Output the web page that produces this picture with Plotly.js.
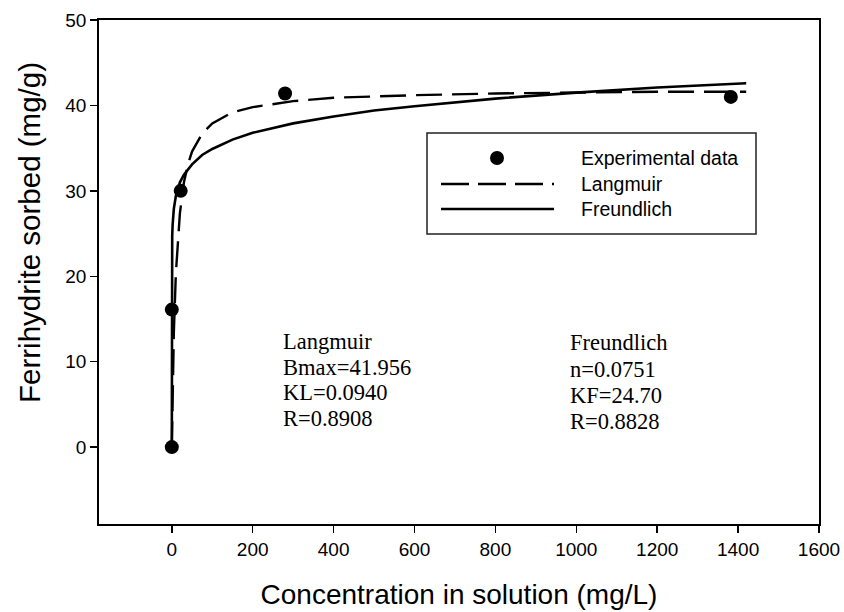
<!DOCTYPE html>
<html>
<head>
<meta charset="utf-8">
<script src="https://cdn.plot.ly/plotly-3.0.1.min.js"></script>
<style>html,body{margin:0;padding:0;background:#fff;}#chart{width:844px;height:612px;}</style>
</head>
<body>
<div id="chart"></div>
<script>
// Experimental data
const expConc = [0, 0, 22, 280, 1382];
const expSorbed = [0, 16.1, 30.0, 41.4, 41.0];

// Langmuir fitted curve
const langConc = [0, 1, 2, 5, 10, 15, 20, 30, 40, 50, 75, 100, 150, 200, 300, 400, 600, 800, 1000, 1200, 1420];
const langSorbed = [0, 3.6, 6.6, 13.4, 20.3, 24.5, 27.4, 31.0, 33.1, 34.6, 36.7, 37.9, 39.2, 39.8, 40.5, 40.9, 41.2, 41.4, 41.5, 41.6, 41.6];

// Freundlich fitted curve
const freuConc = [0, 0.001, 0.01, 0.1, 0.5, 1, 2, 5, 10, 20, 30, 50, 75, 100, 150, 200, 300, 400, 500, 600, 800, 1000, 1200, 1420];
const freuSorbed = [0, 14.7, 17.5, 20.8, 23.4, 24.7, 26.0, 27.9, 29.4, 31.0, 31.9, 33.1, 34.2, 34.9, 36.0, 36.8, 37.9, 38.7, 39.4, 39.9, 40.8, 41.5, 42.1, 42.6];

const xTicks = [0, 200, 400, 600, 800, 1000, 1200, 1400, 1600];
const yTicks = [0, 10, 20, 30, 40, 50];

const legendNames = ["Experimental data", "Langmuir", "Freundlich"];
const langmuirText = ["Langmuir", "Bmax=41.956", "KL=0.0940", "R=0.8908"];
const freundlichText = ["Freundlich", "n=0.0751", "KF=24.70", "R=0.8828"];

const traces = [
  {x: freuConc, y: freuSorbed, mode: 'lines', name: legendNames[2], line: {color: '#000', width: 2.6}, showlegend: false},
  {x: langConc, y: langSorbed, mode: 'lines', name: legendNames[1], line: {color: '#000', width: 2.4, dash: '26px,10px'}, showlegend: false},
  {x: expConc, y: expSorbed, mode: 'markers', name: legendNames[0], marker: {color: '#000', size: 14}, showlegend: false}
];

// layout helpers (pixel -> paper)
const L = 99, R = 819, T = 20, B = 524;
const px = v => (v - L) / (R - L);
const py = v => (B - v) / (B - T);

const serif = {family: 'Liberation Serif, Times New Roman, serif', size: 22.5, color: '#000'};
const sans = {family: 'Liberation Sans, Arial, sans-serif', size: 19, color: '#000'};
const legFont = {family: 'Liberation Sans, Arial, sans-serif', size: 19.5, color: '#000'};

const annotations = [];
const langY = [341, 367, 392, 418];
const freuY = [342, 369, 395, 421];
langmuirText.forEach((t, i) => annotations.push({xref: 'paper', yref: 'paper', x: px(281), y: py(langY[i]), xanchor: 'left', yanchor: 'middle', text: t, showarrow: false, font: serif}));
freundlichText.forEach((t, i) => annotations.push({xref: 'paper', yref: 'paper', x: px(568), y: py(freuY[i]), xanchor: 'left', yanchor: 'middle', text: t, showarrow: false, font: serif}));
const legY = [158, 184, 209];
legendNames.forEach((t, i) => annotations.push({xref: 'paper', yref: 'paper', x: px(579), y: py(legY[i]), xanchor: 'left', yanchor: 'middle', text: t, showarrow: false, font: legFont}));
annotations.push({xref: 'paper', yref: 'paper', x: px(29), y: py(233), xanchor: 'center', yanchor: 'middle', textangle: -90,
  text: 'Ferrihydrite sorbed (mg/g)', showarrow: false, font: {family: 'Liberation Sans, Arial, sans-serif', size: 29.5, color: '#000'}});

const shapes = [
  {type: 'rect', xref: 'paper', yref: 'paper', x0: px(427), x1: px(756), y0: py(234), y1: py(133), line: {color: '#222', width: 1.5}, fillcolor: '#fff', layer: 'below'},
  {type: 'circle', xref: 'paper', yref: 'paper', xsizemode: 'pixel', ysizemode: 'pixel', xanchor: px(497), yanchor: py(158), x0: -7, x1: 7, y0: -7, y1: 7, fillcolor: '#000', line: {width: 0}},
  {type: 'line', xref: 'paper', yref: 'paper', x0: px(441), x1: px(554), y0: py(184), y1: py(184), line: {color: '#000', width: 2.4, dash: '28px,9px'}},
  {type: 'line', xref: 'paper', yref: 'paper', x0: px(441), x1: px(554), y0: py(209), y1: py(209), line: {color: '#000', width: 2.6}}
];

const layout = {
  width: 844, height: 612,
  margin: {l: L, r: 844 - R, t: T, b: 612 - B},
  paper_bgcolor: '#fff', plot_bgcolor: '#fff',
  showlegend: false,
  font: sans,
  xaxis: {
    range: [-180, 1600], tickvals: xTicks, ticktext: xTicks.map(String),
    showgrid: false, zeroline: false, showline: true, mirror: true, linecolor: '#000', linewidth: 1.8,
    ticks: 'outside', ticklen: 7, tickwidth: 1.5, tickcolor: '#000',
    tickfont: sans,
    title: {text: 'Concentration in solution (mg/L)', font: {family: 'Liberation Sans, Arial, sans-serif', size: 28, color: '#000'}, standoff: 26}
  },
  yaxis: {
    range: [-9, 50], tickvals: yTicks, ticktext: yTicks.map(String),
    showgrid: false, zeroline: false, showline: true, mirror: true, linecolor: '#000', linewidth: 1.8,
    ticks: 'outside', ticklen: 7, tickwidth: 1.5, tickcolor: '#000',
    tickfont: sans
  },
  annotations: annotations,
  shapes: shapes
};

Plotly.newPlot('chart', traces, layout, {displayModeBar: false, staticPlot: true});
</script>
</body>
</html>
